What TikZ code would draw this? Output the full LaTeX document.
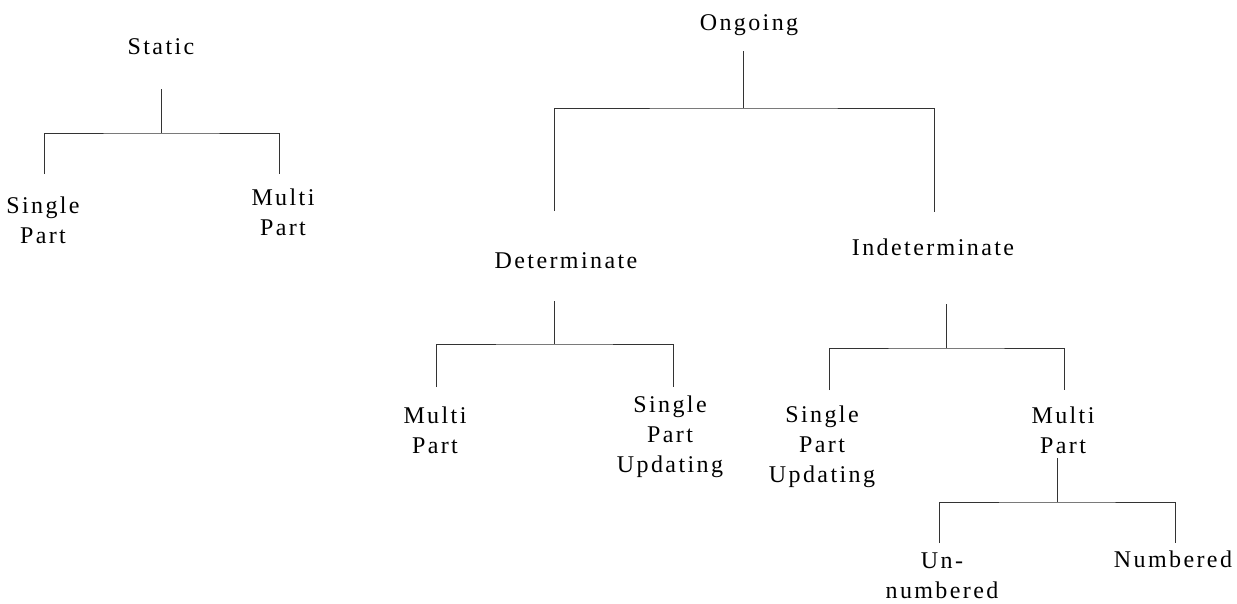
\documentclass[tikz,border=0pt]{standalone}
\usepackage{fontspec}
\setmainfont{Liberation Serif}[LetterSpace=10]
\begin{document}
\begin{tikzpicture}[x=1pt,y=-1pt,
  lbl/.style={font=\fontsize{24}{30}\selectfont, inner sep=0pt, align=center, anchor=base},
  branch/.style={line width=1pt, draw=black!80}]
\useasboundingbox (0,0) rectangle (1237,603);
% labels (anchor = baseline of the last line)
\node[lbl] (static) at (161,54) {Static};
\node[lbl] (s-single) at (43,243) {Single\\Part};
\node[lbl] (s-multi) at (283,235) {Multi\\Part};
\node[lbl] (ongoing) at (749,30) {Ongoing};
\node[lbl] (det) at (566,268) {Determinate};
\node[lbl] (indet) at (933,255) {Indeterminate};
\node[lbl] (d-multi) at (435,453) {Multi\\Part};
\node[lbl] (d-single) at (670,472) {Single\\Part\\Updating};
\node[lbl] (i-single) at (822,482) {Single\\Part\\Updating};
\node[lbl] (i-multi) at (1063,453) {Multi\\Part};
\node[lbl] (unnum) at (942,598) {Un-\\numbered};
\node[lbl] (num) at (1173,567) {Numbered};
% connector points
\coordinate (static-t) at (161,89);  \coordinate (static-j) at (161,133);
\coordinate (s-single-t) at (44,174); \coordinate (s-multi-t) at (279,174);
\coordinate (ongoing-t) at (743,51); \coordinate (ongoing-j) at (743,108);
\coordinate (det-t) at (554,211);    \coordinate (indet-t) at (934,212);
\coordinate (det-b) at (554,301);    \coordinate (det-j) at (554,344);
\coordinate (d-multi-t) at (436,387); \coordinate (d-single-t) at (673,387);
\coordinate (indet-b) at (946,304);  \coordinate (indet-j) at (946,348);
\coordinate (i-single-t) at (829,390); \coordinate (i-multi-t) at (1064,390);
\coordinate (i-multi-b) at (1057,458); \coordinate (i-multi-j) at (1057,502);
\coordinate (unnum-t) at (939,543);  \coordinate (num-t) at (1175,543);
% connectors
\draw[branch] (static-t) -- (static-j);
\draw[branch] (s-single-t) |- (static-j) -| (s-multi-t);
\draw[branch] (ongoing-t) -- (ongoing-j);
\draw[branch] (det-t) |- (ongoing-j) -| (indet-t);
\draw[branch] (det-b) -- (det-j);
\draw[branch] (d-multi-t) |- (det-j) -| (d-single-t);
\draw[branch] (indet-b) -- (indet-j);
\draw[branch] (i-single-t) |- (indet-j) -| (i-multi-t);
\draw[branch] (i-multi-b) -- (i-multi-j);
\draw[branch] (unnum-t) |- (i-multi-j) -| (num-t);
\end{tikzpicture}
\end{document}
